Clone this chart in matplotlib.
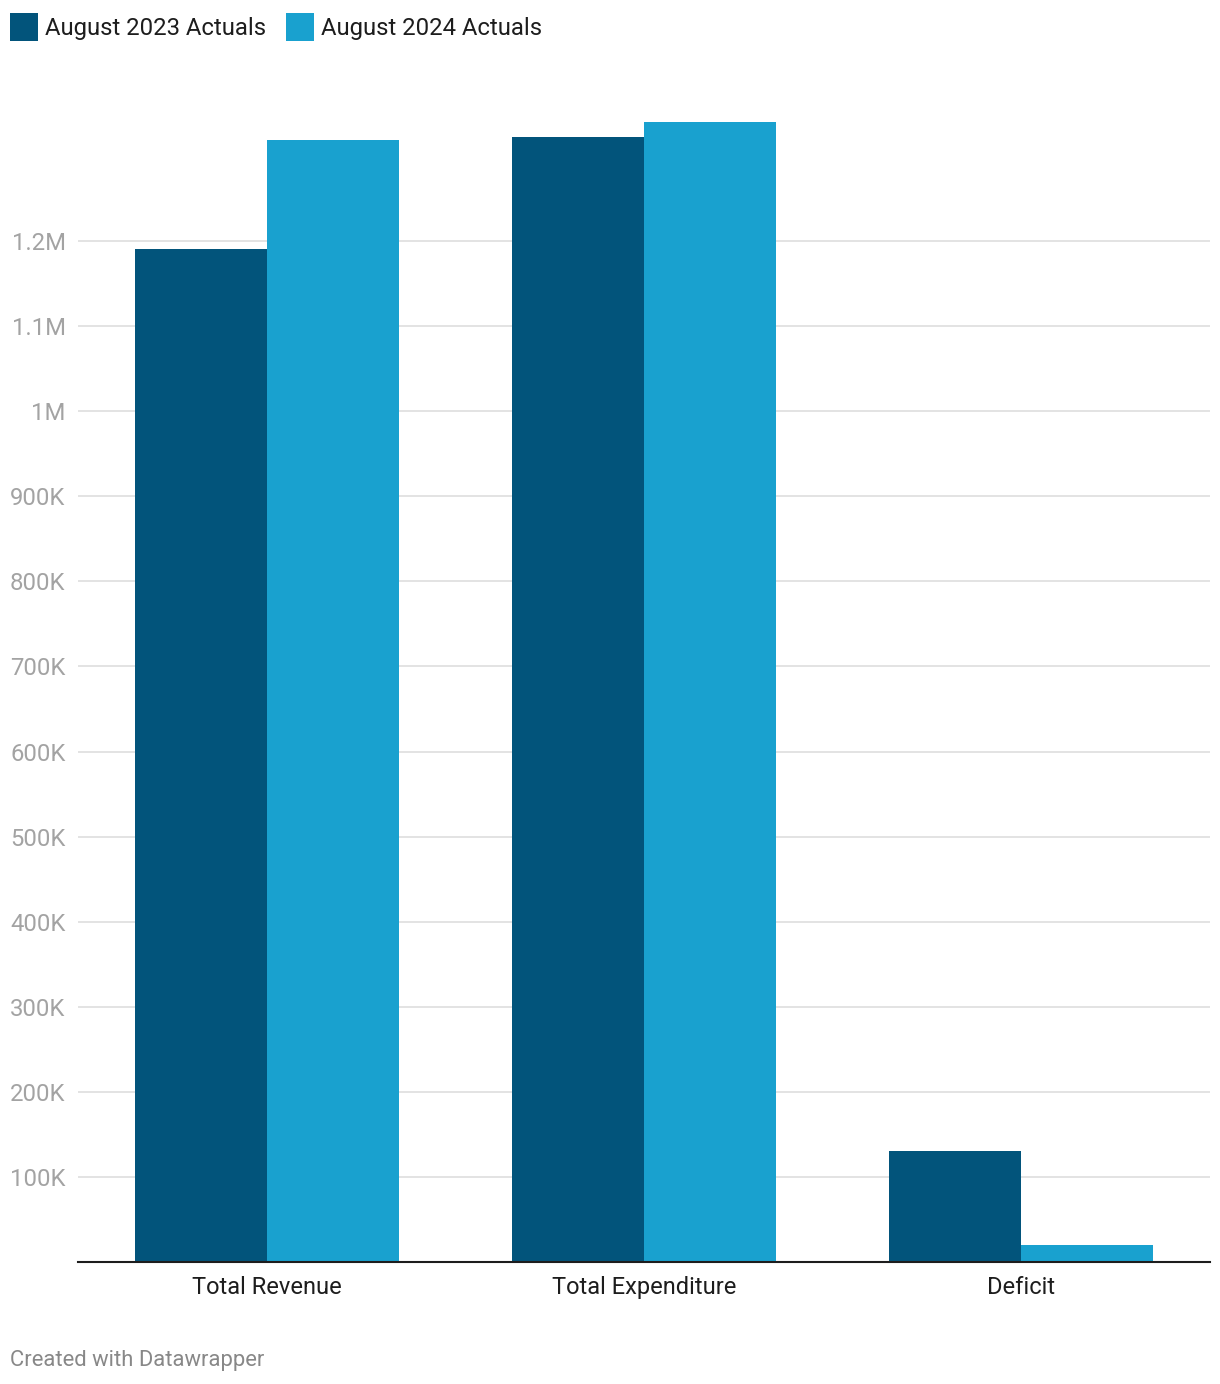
import matplotlib
matplotlib.use('Agg')
import numpy as np
from matplotlib import pyplot as plt
from matplotlib.patches import Rectangle

plt.rcParams['font.family'] = ['Roboto', 'DejaVu Sans']

categories = ['Total Revenue', 'Total Expenditure', 'Deficit']
series_names = ['August 2023 Actuals', 'August 2024 Actuals']
actuals_2023 = [1190600, 1322300, 130500]
actuals_2024 = [1318700, 1339900, 20000]
yticks = [100000, 200000, 300000, 400000, 500000, 600000,
          700000, 800000, 900000, 1000000, 1100000, 1200000]
ytick_labels = ['100K', '200K', '300K', '400K', '500K', '600K',
                '700K', '800K', '900K', '1M', '1.1M', '1.2M']

dark = '#02547b'
light = '#19a1cf'

W, H = 1220, 1384
fig = plt.figure(figsize=(W / 100, H / 100), dpi=100)

# axes placement in pixels
ymax = 1360000
px_per_unit = 85.08 / 100000
ax_left, ax_right, ax_bottom = 78, 1210, 1262
ax_height = ymax * px_per_unit
ax = fig.add_axes([ax_left / W, (H - ax_bottom) / H,
                   (ax_right - ax_left) / W, ax_height / H])

x = np.arange(len(categories))
bw = 0.35
ax.bar(x - bw / 2, actuals_2023, bw, color=dark, zorder=3, linewidth=0)
ax.bar(x + bw / 2, actuals_2024, bw, color=light, zorder=3, linewidth=0)

ax.set_xlim(-0.5, 2.5)
ax.set_ylim(0, ymax)
ax.set_yticks(yticks)
ax.set_yticklabels(ytick_labels)
ax.set_xticks(x)
ax.set_xticklabels(categories, va='baseline')
ax.grid(axis='y', color='#e3e3e3', linewidth=1.4, zorder=0)
ax.set_axisbelow(True)

for s in ['top', 'right', 'left']:
    ax.spines[s].set_visible(False)
ax.spines['bottom'].set_color('#1d1d1d')
ax.spines['bottom'].set_linewidth(1.5)
ax.spines['bottom'].set_zorder(4)

ax.tick_params(axis='y', length=0, pad=9, labelsize=17.2, labelcolor='#a3a3a3')
ax.tick_params(axis='x', length=0, pad=23, labelsize=17, labelcolor='#1d1d1d')

# legend drawn at the top left
leg_items = [(10, dark, series_names[0]), (286, light, series_names[1])]
for lx, col, name in leg_items:
    fig.patches.append(Rectangle((lx / W, (H - 41) / H), 28 / W, 28 / H,
                                 transform=fig.transFigure, color=col, linewidth=0))
    fig.text((lx + 35) / W, (H - 28) / H, name, fontsize=17.2, color='#1d1d1d',
             va='center', ha='left')

fig.text(10 / W, (H - 1360.5) / H, 'Created with Datawrapper', fontsize=15.8,
         color='#888888', va='center', ha='left')

fig.savefig('out.png', dpi=100, facecolor='white')
